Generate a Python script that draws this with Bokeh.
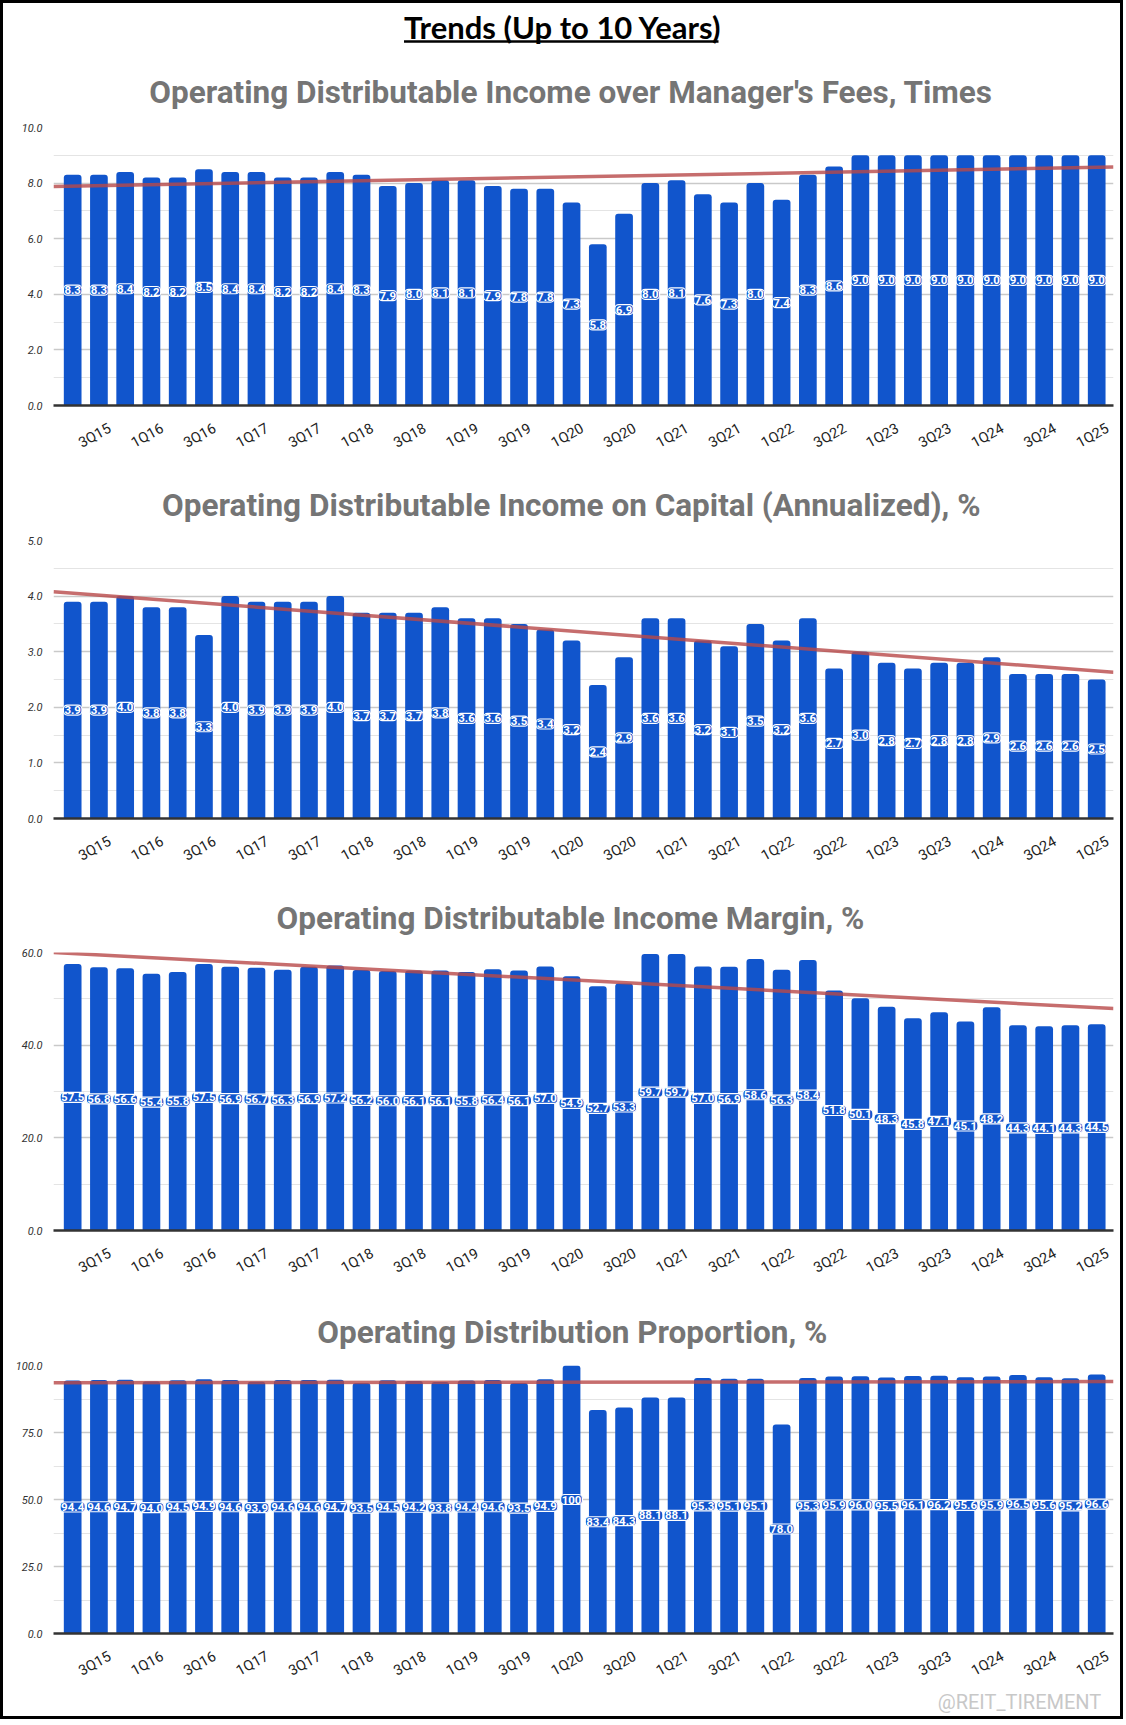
from bokeh.plotting import figure
from bokeh.models import Range1d, FixedTicker, ColumnDataSource
from bokeh.layouts import column
from bokeh.embed import file_html
from bokeh.resources import INLINE
from bokeh.core.properties import value

# ---------------- data ----------------
quarters = ["2Q15", "3Q15", "4Q15",
            "1Q16", "2Q16", "3Q16", "4Q16",
            "1Q17", "2Q17", "3Q17", "4Q17",
            "1Q18", "2Q18", "3Q18", "4Q18",
            "1Q19", "2Q19", "3Q19", "4Q19",
            "1Q20", "2Q20", "3Q20", "4Q20",
            "1Q21", "2Q21", "3Q21", "4Q21",
            "1Q22", "2Q22", "3Q22", "4Q22",
            "1Q23", "2Q23", "3Q23", "4Q23",
            "1Q24", "2Q24", "3Q24", "4Q24",
            "1Q25"]

odi_over_fees = [8.3, 8.3, 8.4, 8.2, 8.2, 8.5, 8.4, 8.4, 8.2, 8.2,
                 8.4, 8.3, 7.9, 8.0, 8.1, 8.1, 7.9, 7.8, 7.8, 7.3,
                 5.8, 6.9, 8.0, 8.1, 7.6, 7.3, 8.0, 7.4, 8.3, 8.6,
                 9.0, 9.0, 9.0, 9.0, 9.0, 9.0, 9.0, 9.0, 9.0, 9.0]

odi_on_capital = [3.9, 3.9, 4.0, 3.8, 3.8, 3.3, 4.0, 3.9, 3.9, 3.9,
                  4.0, 3.7, 3.7, 3.7, 3.8, 3.6, 3.6, 3.5, 3.4, 3.2,
                  2.4, 2.9, 3.6, 3.6, 3.2, 3.1, 3.5, 3.2, 3.6, 2.7,
                  3.0, 2.8, 2.7, 2.8, 2.8, 2.9, 2.6, 2.6, 2.6, 2.5]

odi_margin = [57.5, 56.8, 56.6, 55.4, 55.8, 57.5, 56.9, 56.7, 56.3, 56.9,
              57.2, 56.2, 56.0, 56.1, 56.1, 55.8, 56.4, 56.1, 57.0, 54.9,
              52.7, 53.3, 59.7, 59.7, 57.0, 56.9, 58.6, 56.3, 58.4, 51.8,
              50.1, 48.3, 45.8, 47.1, 45.1, 48.2, 44.3, 44.1, 44.3, 44.5]

distribution_proportion = [94.4, 94.6, 94.7, 94.0, 94.5, 94.9, 94.6, 93.9, 94.6, 94.6,
                           94.7, 93.5, 94.5, 94.2, 93.8, 94.4, 94.6, 93.5, 94.9, 100.0,
                           83.4, 84.3, 88.1, 88.1, 95.3, 95.1, 95.1, 78.0, 95.3, 95.9,
                           96.0, 95.5, 96.1, 96.2, 95.6, 95.9, 96.5, 95.6, 95.2, 96.6]

# trend line values at the left and right edges of each plot
trend_over_fees = [7.88, 8.58]
trend_on_capital = [4.08, 2.63]
trend_margin = [60.0, 47.9]
trend_distribution = [93.6, 94.0]

main_title = "Trends (Up to 10 Years)"
panel_titles = ["Operating Distributable Income over Manager's Fees, Times",
                "Operating Distributable Income on Capital (Annualized), %",
                "Operating Distributable Income Margin, %",
                "Operating Distribution Proportion, %"]

y_max = [10, 5, 60, 100]
y_major = [[0, 2, 4, 6, 8, 10],
           [0, 1, 2, 3, 4, 5],
           [0, 20, 40, 60],
           [0, 25, 50, 75, 100]]
y_minor = [[1, 3, 5, 7, 9],
           [0.5, 1.5, 2.5, 3.5, 4.5],
           [10, 30, 50],
           [12.5, 37.5, 62.5, 87.5]]

# ---------------- style / layout ----------------
W = 1117
LEFT, RIGHT = 50, 7          # plot borders; the column aligns every frame to these
BLUE = "#1155CC"
TREND = "#B84848"
TITLE_GRAY = "#757575"
LABEL_SHIFT = 0.42   # rotated tick labels sit slightly right of the bar centre
X_PAD_LEFT = 0.73    # plot area padding (in bar slots) left of first bar centre
X_PAD_RIGHT = 0.64


def text_fig(height):
    # x range expressed in canvas pixels of the (aligned) frame
    f = figure(width=W, height=height, x_range=Range1d(LEFT, W - RIGHT),
               y_range=Range1d(0, height),
               x_axis_type=None, y_axis_type=None, output_backend="svg",
               toolbar_location=None, min_border=0,
               min_border_left=LEFT, min_border_right=RIGHT)
    f.grid.visible = False
    f.outline_line_color = None
    f.background_fill_color = "white"
    f.border_fill_color = "white"
    return f


def fmt(v):
    return "100" if v >= 100 else f"{v:.1f}"


def chart(vals, trend, ymax, major, minor, height, bottom):
    n = len(vals)
    xr = Range1d(-X_PAD_LEFT, n - 1 + X_PAD_RIGHT)
    p = figure(width=W, height=height, x_range=xr, y_range=Range1d(0, ymax),
               output_backend="svg", toolbar_location=None,
               min_border_left=LEFT, min_border_right=RIGHT, min_border_top=12,
               min_border_bottom=bottom)
    p.outline_line_color = None
    p.background_fill_color = "white"
    p.border_fill_color = "white"
    p.xgrid.visible = False
    p.ygrid.grid_line_color = "#c9c9c9"
    p.ygrid.grid_line_width = 1.5
    p.ygrid.minor_grid_line_color = "#e4e4e4"
    p.ygrid.minor_grid_line_width = 1.2

    p.yaxis.ticker = FixedTicker(ticks=major, minor_ticks=minor)
    p.yaxis.major_label_overrides = {t: f"{t:.1f}" for t in major}
    p.yaxis.axis_line_color = None
    p.yaxis.major_tick_line_color = None
    p.yaxis.minor_tick_line_color = None
    p.yaxis.major_label_standoff = 5
    p.yaxis.major_label_text_font = "Roboto"
    p.yaxis.major_label_text_font_style = "italic"
    p.yaxis.major_label_text_font_size = "11px"
    p.yaxis.major_label_text_color = "#333333"

    idx = list(range(1, n, 2))
    ticks = [round(i + LABEL_SHIFT, 2) for i in idx]
    p.xaxis.ticker = FixedTicker(ticks=ticks, minor_ticks=[])
    p.xaxis.major_label_overrides = {t: quarters[i] for t, i in zip(ticks, idx)}
    p.xaxis.axis_line_color = "#333333"
    p.xaxis.axis_line_width = 2.5
    p.xaxis.major_tick_line_color = None
    p.xaxis.minor_tick_line_color = None
    p.xaxis.major_label_orientation = 0.5
    p.xaxis.major_label_standoff = 16
    p.xaxis.major_label_text_font = "Roboto"
    p.xaxis.major_label_text_font_size = "14.5px"
    p.xaxis.major_label_text_color = "#222222"

    src = ColumnDataSource(dict(x=list(range(n)), top=vals,
                                mid=[v / 2 for v in vals],
                                label=[fmt(v) for v in vals]))
    p.vbar(x="x", top="top", bottom=0, width=0.674, source=src,
           fill_color=BLUE, line_color=None, border_radius=(3, 3, 0, 0))
    p.line(x=[xr.start, xr.end], y=trend, line_color=TREND, line_width=3.5, line_alpha=0.8)
    p.text(x="x", y="mid", text="label", source=src,
           text_align="center", text_baseline="middle",
           text_color="white", text_font=value("Roboto"), text_font_style="bold",
           text_font_size="11.5px",
           background_fill_color=BLUE, border_line_color="white", border_line_width=1.2,
           padding=1, border_radius=4)
    return p


# header (left-aligned text, positioned where the reference title starts)
header = text_fig(57)
header.text(x=[400.6], y=[34], text=[main_title], text_align="left", text_baseline="middle",
            text_font=value("Lato"), text_font_style="bold", text_font_size="31px",
            text_color="black")
header.segment(x0=[400.5], y0=[19], x1=[715], y1=[19], line_color="black", line_width=2.5)

series = [odi_over_fees, odi_on_capital, odi_margin, distribution_proportion]
trends = [trend_over_fees, trend_on_capital, trend_margin, trend_distribution]
chart_heights = [358, 357, 358, 336]
chart_bottoms = [68, 67, 68, 46]
title_y = [23, 23, 22, 21]
title_x = [145.7, 158.6, 273.0, 313.7]

children = [header]
for k in range(4):
    tf = text_fig(55)
    tf.text(x=[title_x[k]], y=[title_y[k]], text=[panel_titles[k]], text_align="left",
            text_baseline="middle", text_font=value("Roboto"), text_font_style="bold",
            text_font_size="31.5px", text_color=TITLE_GRAY)
    children.append(tf)
    children.append(chart(series[k], trends[k], y_max[k], y_major[k], y_minor[k],
                          chart_heights[k], chart_bottoms[k]))

footer = text_fig(27)
footer.text(x=[1016], y=[15], text=["@REIT_TIREMENT"], text_align="center", text_baseline="middle",
            text_font=value("Roboto"), text_font_size="20px", text_color="#c8c8c8")
children.append(footer)

layout = column(children, spacing=0, styles={"border": "3px solid black"})

open("out.html", "w").write(file_html(layout, INLINE))
